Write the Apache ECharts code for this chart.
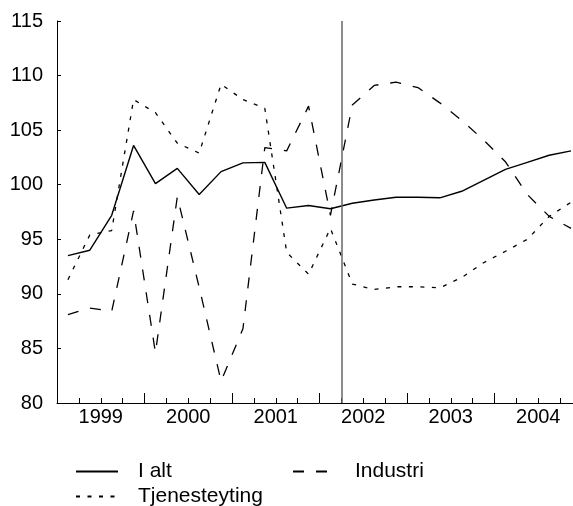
<!DOCTYPE html>
<html>
<head>
<meta charset="utf-8">
<script src="https://cdn.jsdelivr.net/npm/echarts@6/dist/echarts.min.js"></script>
<style>
  html, body { margin: 0; padding: 0; background: #fff; overflow: hidden; width: 573px; height: 506px; }
  #chart { width: 582px; height: 506px; }
</style>
</head>
<body>
<div id="chart"></div>
<script>
// Quarterly data, 1999 Q1 – 2004 Q4
const years = ['1999', '2000', '2001', '2002', '2003', '2004'];
const quartersPerYear = 4;
const iAlt = [93.5, 94.0, 97.2, 103.6, 100.1, 101.5, 99.1, 101.2, 102.0, 102.05, 97.85, 98.1,
              97.8, 98.3, 98.6, 98.85, 98.85, 98.8, 99.4, 100.4, 101.4, 102.05, 102.7, 103.1];
const industri = [88.1, 88.7, 88.4, 97.6, 84.6, 98.9, 90.6, 82.0, 86.8, 103.4, 103.1, 107.2,
                  97.2, 107.3, 109.1, 109.4, 108.9, 107.5, 105.9, 104.1, 102.1, 99.1, 97.1, 96.0];
const tjeneste = [91.3, 95.4, 95.8, 107.8, 106.6, 103.8, 102.9, 109.2, 107.8, 107.0, 93.8, 91.8,
                  96.0, 90.9, 90.4, 90.65, 90.65, 90.55, 91.5, 92.85, 93.9, 95.0, 97.1, 98.4];
const seriesNames = ['I alt', 'Industri', 'Tjenesteyting'];
const yMin = 80, yMax = 115, yStep = 5;
const markerQuarter = 13; // vertical line position (quarter boundary)

const nQ = years.length * quartersPerYear;
const toPairs = arr => arr.map((v, i) => [i + 0.5, v]);

const FONT = '"Liberation Sans", Arial, sans-serif';
const chart = echarts.init(document.getElementById('chart'), null, { renderer: 'canvas' });

const legendBase = {
  orient: 'horizontal',
  itemWidth: 42,
  itemHeight: 14,
  itemGap: 0,
  itemStyle: { opacity: 0 },
  textStyle: { fontFamily: FONT, fontSize: 21, color: '#000', padding: [0, 0, 0, 15] },
  inactiveColor: '#000',
  selectedMode: false
};

chart.setOption({
  animation: false,
  backgroundColor: '#fff',
  grid: { left: 57, right: 0, top: 21, bottom: 103, containLabel: false },
  xAxis: [
    {
      type: 'value', min: 0, max: nQ, interval: quartersPerYear,
      axisLine: { show: true, lineStyle: { color: '#000', width: 1 } },
      axisTick: { show: true, inside: true, length: 10, lineStyle: { color: '#000', width: 1 } },
      minorTick: { show: true, splitNumber: quartersPerYear, length: 5, lineStyle: { color: '#000', width: 1 } },
      axisLabel: { show: false },
      splitLine: { show: false }
    },
    {
      type: 'category', data: years, position: 'bottom', boundaryGap: true,
      axisLine: { show: false }, axisTick: { show: false },
      axisLabel: { show: true, interval: 0, margin: 4, fontFamily: FONT, fontSize: 20, color: '#000' },
      splitLine: { show: false }
    }
  ],
  yAxis: {
    type: 'value', min: yMin, max: yMax, interval: yStep,
    axisLine: { show: true, lineStyle: { color: '#000', width: 1 } },
    axisTick: { show: true, inside: true, length: 4, lineStyle: { color: '#000' } },
    axisLabel: { fontFamily: FONT, fontSize: 20, color: '#000', margin: 14 },
    splitLine: { show: false }
  },
  legend: [
    Object.assign({}, legendBase, { data: [seriesNames[0]], left: 70, top: 456 }),
    Object.assign({}, legendBase, { data: [seriesNames[1]], left: 287, top: 456 }),
    Object.assign({}, legendBase, { data: [seriesNames[2]], left: 70, top: 481 })
  ],
  series: [
    {
      name: seriesNames[0], type: 'line', xAxisIndex: 0, data: toPairs(iAlt),
      symbol: 'none', lineStyle: { color: '#000', width: 1.4, type: 'solid' },
      itemStyle: { color: '#000' },
      markLine: {
        silent: true, symbol: 'none', label: { show: false },
        lineStyle: { color: '#666', width: 1.5, type: 'solid' },
        data: [{ xAxis: markerQuarter }]
      },
      z: 3
    },
    {
      name: seriesNames[1], type: 'line', xAxisIndex: 0, data: toPairs(industri),
      symbol: 'none', lineStyle: { color: '#000', width: 1.3, type: [11, 12] },
      itemStyle: { color: '#000' }, z: 2
    },
    {
      name: seriesNames[2], type: 'line', xAxisIndex: 0, data: toPairs(tjeneste),
      symbol: 'none', lineStyle: { color: '#000', width: 1.3, type: [4, 7.5] },
      itemStyle: { color: '#000' }, z: 2
    }
  ]
});
</script>
</body>
</html>
